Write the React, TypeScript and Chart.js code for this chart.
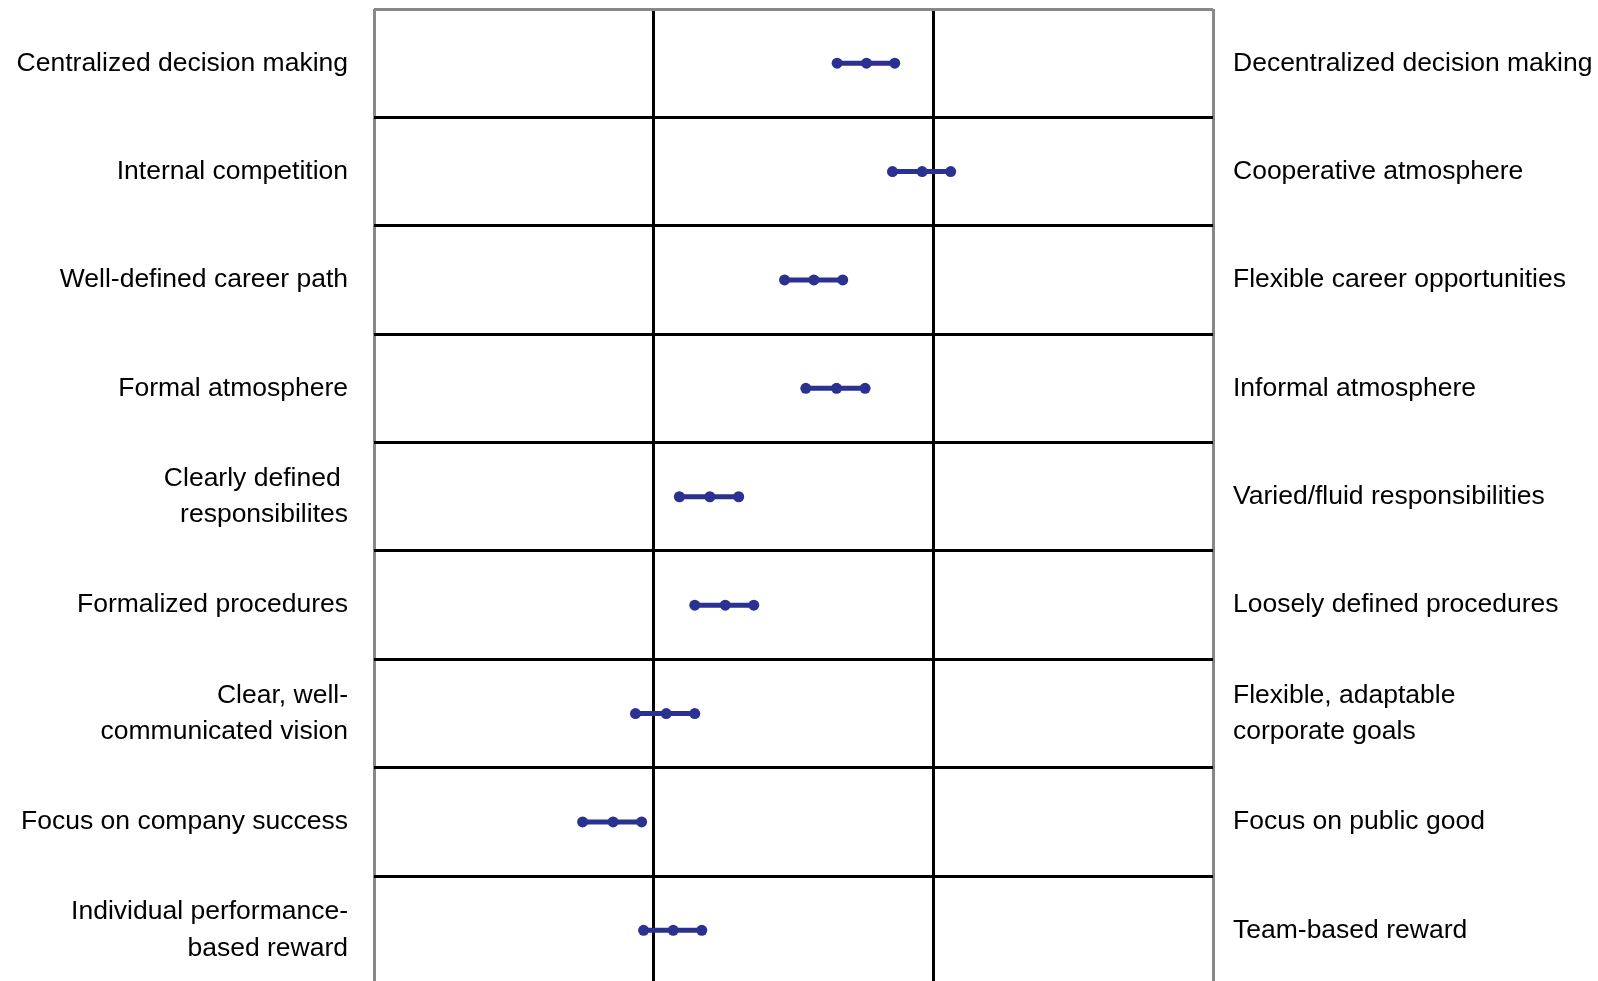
import React, { useEffect, useRef } from "react";
import { Chart, registerables } from "chart.js";

Chart.register(...registerables);

const leftLabels: (string | string[])[] = [
  "Centralized decision making",
  "Internal competition",
  "Well-defined career path",
  "Formal atmosphere",
  ["Clearly defined ", "responsibilites"],
  "Formalized procedures",
  ["Clear, well-", "communicated vision"],
  "Focus on company success",
  ["Individual performance-", "based reward"],
];

const rightLabels: (string | string[])[] = [
  "Decentralized decision making",
  "Cooperative atmosphere",
  "Flexible career opportunities",
  "Informal atmosphere",
  "Varied/fluid responsibilities",
  "Loosely defined procedures",
  ["Flexible, adaptable", "corporate goals"],
  "Focus on public good",
  "Team-based reward",
];

const lowValues = [1.656, 1.854, 1.468, 1.544, 1.092, 1.147, 0.935, 0.746, 0.964];
const midValues = [1.761, 1.96, 1.573, 1.654, 1.201, 1.256, 1.045, 0.855, 1.07];
const highValues = [1.862, 2.062, 1.676, 1.756, 1.304, 1.358, 1.147, 0.957, 1.172];

const xTicks = [0, 1, 2, 3];

const BLUE = "#2B3190";
const GREY = "#888888";
const FONT = { family: "'Liberation Sans', Arial, sans-serif", size: 26.5, lineHeight: 1.38 };

export default function App() {
  const ref = useRef<HTMLCanvasElement | null>(null);

  useEffect(() => {
    if (!ref.current) return;
    const datasets = leftLabels.map((_, i) => ({
      label: "row" + i,
      parsing: false,
      normalized: true,
      data: [
        { x: lowValues[i], y: i },
        { x: midValues[i], y: i },
        { x: highValues[i], y: i },
      ],
      borderColor: BLUE,
      backgroundColor: BLUE,
      borderWidth: 5,
      pointRadius: 5.5,
      pointBorderWidth: 0,
      pointBackgroundColor: BLUE,
      yAxisID: "y",
      xAxisID: "x",
    }));
    const nRows = leftLabels.length;
    const zeroPad = (scale: any) => {
      scale.paddingTop = 0;
      scale.paddingBottom = 0;
      scale.paddingLeft = 0;
      scale.paddingRight = 0;
    };
    const chart = new Chart(ref.current, {
      type: "line",
      data: { datasets } as any,
      options: {
        animation: false,
        responsive: false,
        layout: { padding: { top: 9, left: 0, right: 0, bottom: 0 } },
        plugins: { legend: { display: false }, tooltip: { enabled: false } },
        scales: {
          x: {
            type: "linear",
            position: "bottom",
            min: xTicks[0],
            max: xTicks[xTicks.length - 1],
            afterBuildTicks: (scale: any) => {
              scale.ticks = xTicks.map((v) => ({ value: v }));
            },
            ticks: { display: false },
            border: { display: false },
            grid: {
              drawTicks: false,
              lineWidth: 3,
              color: (ctx: any) =>
                ctx.index === 0 || ctx.index === xTicks.length - 1 ? GREY : "#000000",
            },
            afterFit: (scale: any) => {
              scale.height = 0;
              zeroPad(scale);
            },
          },
          y: {
            type: "category",
            position: "left",
            labels: leftLabels as any,
            offset: true,
            min: 0,
            max: nRows - 1,
            ticks: { color: "#000000", font: FONT as any, padding: 26, autoSkip: false },
            border: { display: false },
            grid: {
              offset: true,
              drawTicks: false,
              lineWidth: 3,
              color: (ctx: any) =>
                ctx.index === 0 || ctx.index >= nRows ? GREY : "#000000",
            },
            afterFit: (scale: any) => {
              scale.width = 374;
              zeroPad(scale);
            },
          },
          y2: {
            type: "category",
            position: "right",
            labels: rightLabels as any,
            offset: true,
            min: 0,
            max: nRows - 1,
            ticks: { color: "#000000", font: FONT as any, padding: 20, autoSkip: false },
            border: { display: false },
            grid: { display: false, drawTicks: false },
            afterFit: (scale: any) => {
              scale.width = 385;
              zeroPad(scale);
            },
          },
        },
      } as any,
    });
    return () => chart.destroy();
  }, []);

  return (
    <div
      style={{
        position: "fixed",
        left: 0,
        top: 0,
        width: 1598,
        height: 981,
        overflow: "hidden",
        background: "#ffffff",
      }}
    >
      <canvas ref={ref} width={1598} height={990} style={{ display: "block", width: 1598, height: 990 }} />
    </div>
  );
}
